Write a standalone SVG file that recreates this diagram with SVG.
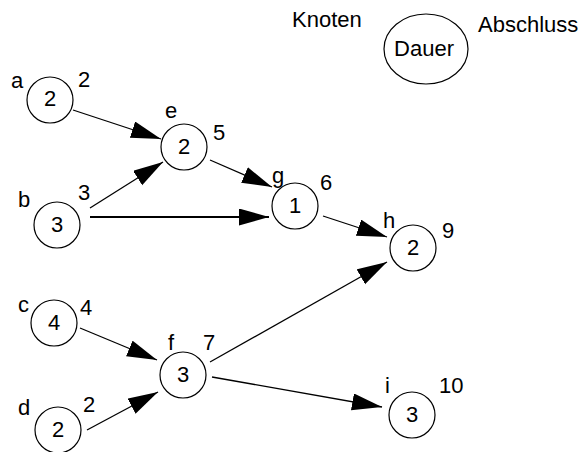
<svg xmlns="http://www.w3.org/2000/svg" width="580" height="452" viewBox="0 0 580 452">
<style>
.n{fill:#fff;stroke:#000;stroke-width:1.2}
.t{font-family:"Liberation Sans",Arial,sans-serif;font-size:22px;fill:#000}
.c{text-anchor:middle}
.e{stroke:#000;stroke-width:1.3;fill:none;marker-end:url(#ah)}
</style>
<defs>
<marker id="ah" markerUnits="userSpaceOnUse" markerWidth="32" markerHeight="20" refX="30" refY="8.5" orient="auto">
<path d="M0,0 L30,8.5 L0,17 z" fill="#000"/>
</marker>
</defs>
<rect width="580" height="452" fill="#fff"/>
<g id="connectors">
<line class="e" x1="73" y1="110" x2="161" y2="139"/>
<line class="e" x1="90" y1="208" x2="163" y2="162"/>
<line class="e" x1="210" y1="160" x2="272" y2="187"/>
<line class="e" x1="90" y1="217" x2="269" y2="217" style="stroke-width:2"/>
<line class="e" x1="323" y1="216" x2="387" y2="237"/>
<line class="e" x1="80" y1="328" x2="157" y2="360"/>
<line class="e" x1="87" y1="430" x2="158" y2="392"/>
<line class="e" x1="210" y1="362" x2="387" y2="262"/>
<line class="e" x1="212" y1="377" x2="382" y2="407"/>
</g>
<g id="legend">
<text class="t" x="292" y="27">Knoten</text>
<ellipse class="n" cx="426" cy="49" rx="42" ry="35"/>
<text class="t c" x="424" y="56">Dauer</text>
<text class="t" x="478" y="32">Abschluss</text>
</g>
<g id="node-a"><circle class="n" cx="50" cy="100" r="23"/><text class="t c" x="50" y="106">2</text><text class="t" x="11" y="88">a</text><text class="t" x="78" y="87">2</text></g>
<g id="node-e"><circle class="n" cx="184" cy="147" r="23"/><text class="t c" x="184" y="154">2</text><text class="t" x="165" y="118">e</text><text class="t" x="213" y="140">5</text></g>
<g id="node-b"><circle class="n" cx="57" cy="225" r="23"/><text class="t c" x="57" y="232">3</text><text class="t" x="18" y="207">b</text><text class="t" x="78" y="200">3</text></g>
<g id="node-g"><circle class="n" cx="295" cy="206" r="23"/><text class="t c" x="295" y="213">1</text><text class="t" x="272" y="183">g</text><text class="t" x="320" y="190">6</text></g>
<g id="node-h"><circle class="n" cx="413" cy="248" r="23"/><text class="t c" x="413" y="255">2</text><text class="t" x="383" y="228">h</text><text class="t" x="442" y="238">9</text></g>
<g id="node-c"><circle class="n" cx="54" cy="323" r="23"/><text class="t c" x="54" y="330">4</text><text class="t" x="18" y="312">c</text><text class="t" x="80" y="315">4</text></g>
<g id="node-f"><circle class="n" cx="183" cy="375" r="23"/><text class="t c" x="183" y="382">3</text><text class="t" x="168" y="350">f</text><text class="t" x="203" y="350">7</text></g>
<g id="node-d"><circle class="n" cx="58" cy="430" r="23"/><text class="t c" x="58" y="437">2</text><text class="t" x="18" y="415">d</text><text class="t" x="83" y="412">2</text></g>
<g id="node-i"><circle class="n" cx="412" cy="415" r="23"/><text class="t c" x="412" y="422">3</text><text class="t" x="385" y="393">i</text><text class="t" x="439" y="393">10</text></g>
</svg>
